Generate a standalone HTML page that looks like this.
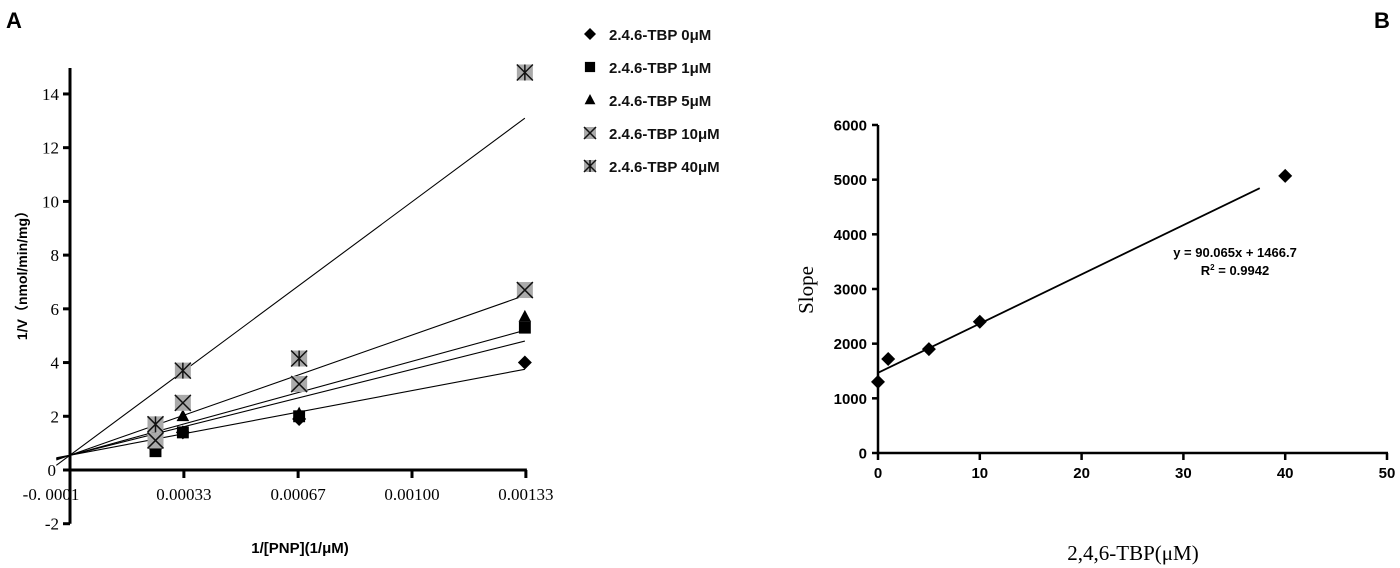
<!DOCTYPE html>
<html><head><meta charset="utf-8"><style>
body{margin:0;background:#fff;width:1400px;height:568px;overflow:hidden}
svg{display:block}
</style></head><body>
<svg id="svg" width="1400" height="568" xmlns="http://www.w3.org/2000/svg">
<text x="6" y="28" font-family="Liberation Sans" font-weight="bold" font-size="22">A</text>
<text x="1374" y="28" font-family="Liberation Sans" font-weight="bold" font-size="22">B</text>
<g id="chartA"></g>
<g id="chartB"></g>
</svg>
<script>
// ---------- Chart A data ----------
const aSeriesNames = ["2.4.6-TBP 0μM","2.4.6-TBP 1μM","2.4.6-TBP 5μM","2.4.6-TBP 10μM","2.4.6-TBP 40μM"];
const aXValues = [0.00025, 0.00033, 0.00067, 0.00133];
const aS0 = [0.8, 1.4, 1.9, 4.0];
const aS1 = [0.7, 1.4, 2.0, 5.3];
const aS5 = [1.0, 2.0, 2.1, 5.7];
const aS10 = [1.1, 2.5, 3.2, 6.7];
const aS40 = [1.7, 3.7, 4.15, 14.8];
const aFitIntercepts = [0.55, 0.55, 0.55, 0.55, 0.55];
const aFitEnds = [3.75, 5.2, 4.8, 6.5, 13.1];
const aYTicks = [-2, 0, 2, 4, 6, 8, 10, 12, 14];
const aXTicks = [0.000333, 0.000667, 0.001, 0.001333];
const aXTickLabels = ["0.00033","0.00067","0.00100","0.00133"];
// ---------- Chart B data ----------
const bX = [0, 1, 5, 10, 40];
const bY = [1300, 1720, 1900, 2400, 5070];
const bSlope = 90.065, bIntercept = 1466.7;
const bXTicks = [0, 10, 20, 30, 40, 50];
const bYTicks = [0, 1000, 2000, 3000, 4000, 5000, 6000];

const NS = "http://www.w3.org/2000/svg";
function mk(parent, tag, attrs, text){
  const e = document.createElementNS(NS, tag);
  for (const k in attrs) e.setAttribute(k, attrs[k]);
  if (text !== undefined) e.textContent = text;
  parent.appendChild(e);
  return e;
}
// ---------- Chart A ----------
const A = document.getElementById('chartA');
const ax = v => 70 + v * 342000;
const ay = v => 470 - v * 26.86;
let el;
el = mk(A,'line',{x1:70,y1:68,x2:70,y2:ay(-2),stroke:'#000','stroke-width':3});


el = mk(A,'line',{x1:68.5,y1:470,x2:ax(0.001333)+1,y2:470,stroke:'#000','stroke-width':3});


aYTicks.forEach(t=>{
  mk(A,'line',{x1:63,y1:ay(t),x2:70,y2:ay(t),stroke:'#000','stroke-width':3});
  el = mk(A,'text',{x:t===0?56:59,y:ay(t)+6,'text-anchor':'end','font-family':'Liberation Serif','font-size':17},String(t));
  
  
});
aXTicks.forEach((t,i)=>{
  mk(A,'line',{x1:ax(t),y1:470,x2:ax(t),y2:478,stroke:'#000','stroke-width':3});
  el = mk(A,'text',{x:ax(t),y:500,'text-anchor':'middle','font-family':'Liberation Serif','font-size':17},aXTickLabels[i]);
  
  
});
el = mk(A,'text',{x:51,y:500,'text-anchor':'middle','font-family':'Liberation Serif','font-size':17},"-0. 0001");


el = mk(A,'text',{x:0,y:0,transform:'translate(27,272) rotate(-90)','text-anchor':'middle','font-family':'Liberation Sans, Noto Sans CJK SC, sans-serif','font-weight':'bold','font-size':14},"1/V（nmol/min/mg）");


el = mk(A,'text',{x:300,y:553,'text-anchor':'middle','font-family':'Liberation Sans','font-weight':'bold','font-size':15},"1/[PNP](1/μM)");


// fit lines
aFitEnds.forEach((e,i)=>{
  const b = aFitIntercepts[i], x0=-0.00004, x1=0.00133;
  const m = (e-b)/x1;
  el = mk(A,'line',{x1:ax(x0),y1:ay(b+m*x0),x2:ax(x1),y2:ay(e),stroke:'#000','stroke-width':1.1});
  
  
});
function marker(g, type, cx, cy, s){
  let m;
  if(type===0) m = mk(g,'polygon',{points:`${cx},${cy-s} ${cx+s},${cy} ${cx},${cy+s} ${cx-s},${cy}`,fill:'#000'});
  else if(type===1) m = mk(g,'rect',{x:cx-s*0.85,y:cy-s*0.85,width:s*1.7,height:s*1.7,fill:'#000'});
  else if(type===2) m = mk(g,'polygon',{points:`${cx},${cy-s} ${cx+s*0.9},${cy+s*0.7} ${cx-s*0.9},${cy+s*0.7}`,fill:'#000'});
  else {
    m = mk(g,'g',{});
    mk(m,'rect',{x:cx-s,y:cy-s,width:2*s,height:2*s,fill:'#aaa'});
    mk(m,'path',{d:`M${cx-s} ${cy-s}L${cx+s} ${cy+s}M${cx+s} ${cy-s}L${cx-s} ${cy+s}`+(type===4?`M${cx} ${cy-s}L${cx} ${cy+s}`:''),stroke:'#111','stroke-width':1.5});
  }
  return m;
}
[aS0,aS1,aS5,aS10,aS40].forEach((arr,si)=>{
  arr.forEach((v,i)=>{
    el = marker(A, si, ax(aXValues[i]), ay(v), si>=3?8:7);
    
    
  });
});
// legend
aSeriesNames.forEach((n,i)=>{
  const y = 34 + i*33;
  el = marker(A, i, 590, y, i>=3?6:6);
  
  
  el = mk(A,'text',{x:609,y:y+6,'font-family':'Liberation Sans','font-weight':'bold','font-size':15,fill:'#111'},n);
  
  
});
// ---------- Chart B ----------
const B = document.getElementById('chartB');
const bx = v => 878 + v * 10.18;
const by = v => 453 - v * 0.05467;
el = mk(B,'line',{x1:878,y1:by(6000),x2:878,y2:454,stroke:'#000','stroke-width':2.5});


el = mk(B,'line',{x1:877,y1:453,x2:bx(50)+1,y2:453,stroke:'#000','stroke-width':2.5});


bYTicks.forEach(t=>{
  mk(B,'line',{x1:872,y1:by(t),x2:878,y2:by(t),stroke:'#000','stroke-width':2.5});
  el = mk(B,'text',{x:867,y:by(t)+5.5,'text-anchor':'end','font-family':'Liberation Sans','font-weight':'bold','font-size':15},String(t));
  
  
});
bXTicks.forEach(t=>{
  mk(B,'line',{x1:bx(t),y1:453,x2:bx(t),y2:460,stroke:'#000','stroke-width':2.5});
  el = mk(B,'text',{x:bx(t),y:478,'text-anchor':'middle','font-family':'Liberation Sans','font-weight':'bold','font-size':15},String(t));
  
  
});
el = mk(B,'line',{x1:bx(0),y1:by(bIntercept),x2:bx(37.5),y2:by(bIntercept+bSlope*37.5),stroke:'#000','stroke-width':1.8});


bX.forEach((x,i)=>{
  el = marker(B,0,bx(x),by(bY[i]),7);
  
  
});
el = mk(B,'text',{x:1235,y:257,'text-anchor':'middle','font-family':'Liberation Sans','font-weight':'bold','font-size':13},"y = 90.065x + 1466.7");


el = mk(B,'text',{x:1235,y:275,'text-anchor':'middle','font-family':'Liberation Sans','font-weight':'bold','font-size':13});


el.innerHTML = 'R<tspan dy="-5" font-size="8">2</tspan><tspan dy="5"> = 0.9942</tspan>';
el = mk(B,'text',{x:0,y:0,transform:'translate(813,290) rotate(-90)','text-anchor':'middle','font-family':'Liberation Serif','font-size':21},"Slope");


el = mk(B,'text',{x:1133,y:560,'text-anchor':'middle','font-family':'Liberation Serif','font-size':21},"2,4,6-TBP(μM)");


</script>
</body></html>
